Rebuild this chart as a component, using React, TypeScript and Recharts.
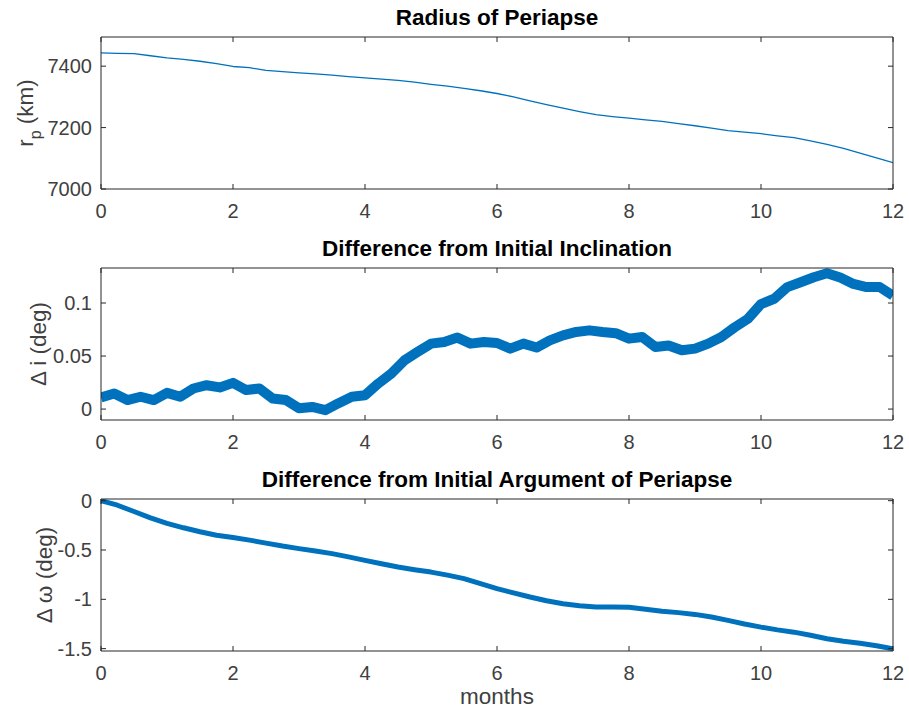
import { LineChart, Line, XAxis, YAxis } from "recharts";

// months on the x axis
const radiusMonths = [
  0, 0.25, 0.5, 0.75, 1, 1.25, 1.5, 1.75, 2, 2.25, 2.5, 2.75, 3, 3.25, 3.5, 3.75, 4,
  4.25, 4.5, 4.75, 5, 5.25, 5.5, 5.75, 6, 6.25, 6.5, 6.75, 7, 7.25, 7.5, 7.75, 8,
  8.25, 8.5, 8.75, 9, 9.25, 9.5, 9.75, 10, 10.25, 10.5, 10.75, 11, 11.25, 11.5, 11.75, 12,
];
const radiusKm = [
  7443, 7442, 7441, 7434, 7427, 7422, 7416, 7408, 7399, 7395, 7386, 7382, 7378, 7375, 7371, 7366, 7362,
  7358, 7354, 7348, 7341, 7335, 7328, 7320, 7311, 7300, 7287, 7275, 7263, 7252, 7242, 7236, 7231,
  7225, 7220, 7213, 7206, 7198, 7190, 7185, 7180, 7173, 7167, 7157, 7145, 7132, 7117, 7101, 7086,
];

const inclMonths = [
  0, 0.2, 0.4, 0.6, 0.8, 1, 1.2, 1.4, 1.6, 1.8, 2, 2.2, 2.4, 2.6, 2.8, 3, 3.2, 3.4, 3.6, 3.8,
  4, 4.2, 4.4, 4.6, 4.8, 5, 5.2, 5.4, 5.6, 5.8, 6, 6.2, 6.4, 6.6, 6.8, 7, 7.2, 7.4, 7.6, 7.8,
  8, 8.2, 8.4, 8.6, 8.8, 9, 9.2, 9.4, 9.6, 9.8, 10, 10.2, 10.4, 10.6, 10.8, 11, 11.2, 11.4, 11.6, 11.8, 12,
];
const inclDeg = [
  0.011, 0.0147, 0.0085, 0.0116, 0.0085, 0.0153, 0.0116, 0.0194, 0.0225, 0.0204, 0.0247, 0.0179, 0.0194, 0.01, 0.0085,
  0.0007, 0.002, -0.001, 0.0056, 0.0116, 0.013, 0.024, 0.0335, 0.046, 0.054, 0.0617, 0.0633, 0.0674, 0.0617, 0.0633,
  0.0623, 0.057, 0.0617, 0.058, 0.0648, 0.0695, 0.0727, 0.0742, 0.0727, 0.0715, 0.0664, 0.068, 0.0586, 0.06, 0.0555,
  0.057, 0.0617, 0.068, 0.077, 0.085, 0.099, 0.104, 0.115, 0.1196, 0.1243, 0.128, 0.124, 0.118, 0.115, 0.115, 0.107,
];

const argMonths = radiusMonths;
const argDeg = [
  0, -0.046, -0.11, -0.175, -0.23, -0.275, -0.315, -0.35, -0.374, -0.4, -0.43, -0.46, -0.486, -0.51, -0.537, -0.57, -0.605,
  -0.64, -0.673, -0.7, -0.724, -0.755, -0.79, -0.84, -0.892, -0.935, -0.977, -1.015, -1.045, -1.065, -1.079, -1.078, -1.08,
  -1.1, -1.12, -1.135, -1.153, -1.18, -1.214, -1.25, -1.282, -1.31, -1.333, -1.365, -1.4, -1.425, -1.445, -1.47, -1.502,
];

const monthTicks = [0, 2, 4, 6, 8, 10, 12];
const radiusTicks = [7000, 7200, 7400];
const inclTicks = [0, 0.05, 0.1];
const argTicks = [-1.5, -1, -0.5, 0];

const FONT = '"Liberation Sans", Arial, Helvetica, sans-serif';
const AXIS = "#262626";
const BLUE = "#0072BD";
const PAD = 10;
const PLOT_H = 152;

const zip = (xs: number[], ys: number[]) => xs.map((m, i) => ({ m, v: ys[i] }));

type PanelProps = {
  top: number;
  title: string;
  data: { m: number; v: number }[];
  domain: [number, number];
  yTicks: number[];
  yLabel: React.ReactNode;
  labelX: number;
  width: number;
};

function Panel({ top, title, data, domain, yTicks, yLabel, labelX, width }: PanelProps) {
  const tickStyle = { fill: "#404040", fontSize: 20, fontFamily: FONT };
  const blank = () => "";
  return (
    <>
      <div
        style={{
          position: "absolute", left: 101, width: 792, top: top - 32, height: 26,
          lineHeight: "26px", textAlign: "center", fontFamily: FONT, fontWeight: "bold",
          fontSize: 22.5, color: "#000",
        }}
      >
        {title}
      </div>
      <div style={{ position: "absolute", left: 0, top: top - PAD }}>
        <LineChart width={909} height={PAD + PLOT_H + 50} data={data} margin={{ top: PAD - 1, right: 15, bottom: 0, left: 0 }}>
          <XAxis xAxisId="b" dataKey="m" type="number" domain={[0, 12]} ticks={monthTicks} allowDataOverflow
            height={50} tickSize={-5} tickMargin={20} tick={tickStyle} stroke={AXIS} />
          <XAxis xAxisId="t" orientation="top" dataKey="m" type="number" domain={[0, 12]} ticks={monthTicks} allowDataOverflow
            height={1} tickSize={-5} tickFormatter={blank} stroke={AXIS} />
          <YAxis yAxisId="l" type="number" domain={domain} ticks={yTicks} allowDataOverflow
            width={101} tickSize={-5} tickMargin={14} tick={tickStyle} stroke={AXIS}
            label={{
              content: () => (
                <text transform={`rotate(-90, ${labelX}, ${PAD + PLOT_H / 2})`} x={labelX} y={PAD + PLOT_H / 2}
                  textAnchor="middle" dominantBaseline="central" fill="#404040" fontSize={22.5} fontFamily={FONT}>
                  {yLabel}
                </text>
              ),
            }}
          />
          <YAxis yAxisId="r" orientation="right" type="number" domain={domain} ticks={yTicks} allowDataOverflow
            width={1} tickSize={-5} tickFormatter={blank} stroke={AXIS} />
          <Line xAxisId="t" yAxisId="r" type="linear" dataKey="v" stroke="none" dot={false} isAnimationActive={false} />
          <Line xAxisId="b" yAxisId="l" type="linear" dataKey="v" stroke={BLUE}
            strokeWidth={width} strokeLinejoin="round" dot={false} isAnimationActive={false} />
        </LineChart>
      </div>
    </>
  );
}

export default function App() {
  return (
    <div style={{ position: "absolute", left: 0, top: 0, width: 909, height: 713, background: "#fff" }}>
      <Panel top={37} title="Radius of Periapse" data={zip(radiusMonths, radiusKm)} domain={[7000, 7495]}
        yTicks={radiusTicks} labelX={25} width={1.3}
        yLabel={<><tspan>r</tspan><tspan dy={10} fontSize={16}>p</tspan><tspan dy={-10}> (km)</tspan></>} />
      <Panel top={268} title="Difference from Initial Inclination" data={zip(inclMonths, inclDeg)} domain={[-0.0103, 0.133]}
        yTicks={inclTicks} labelX={38} width={10} yLabel="Δ i (deg)" />
      <Panel top={499} title="Difference from Initial Argument of Periapse" data={zip(argMonths, argDeg)} domain={[-1.524, 0.017]}
        yTicks={argTicks} labelX={44} width={5} yLabel="Δ ω (deg)" />
      <div style={{ position: "absolute", left: 101, width: 792, top: 684, textAlign: "center", fontFamily: FONT, fontSize: 22.5, color: "#404040" }}>
        months
      </div>
    </div>
  );
}
